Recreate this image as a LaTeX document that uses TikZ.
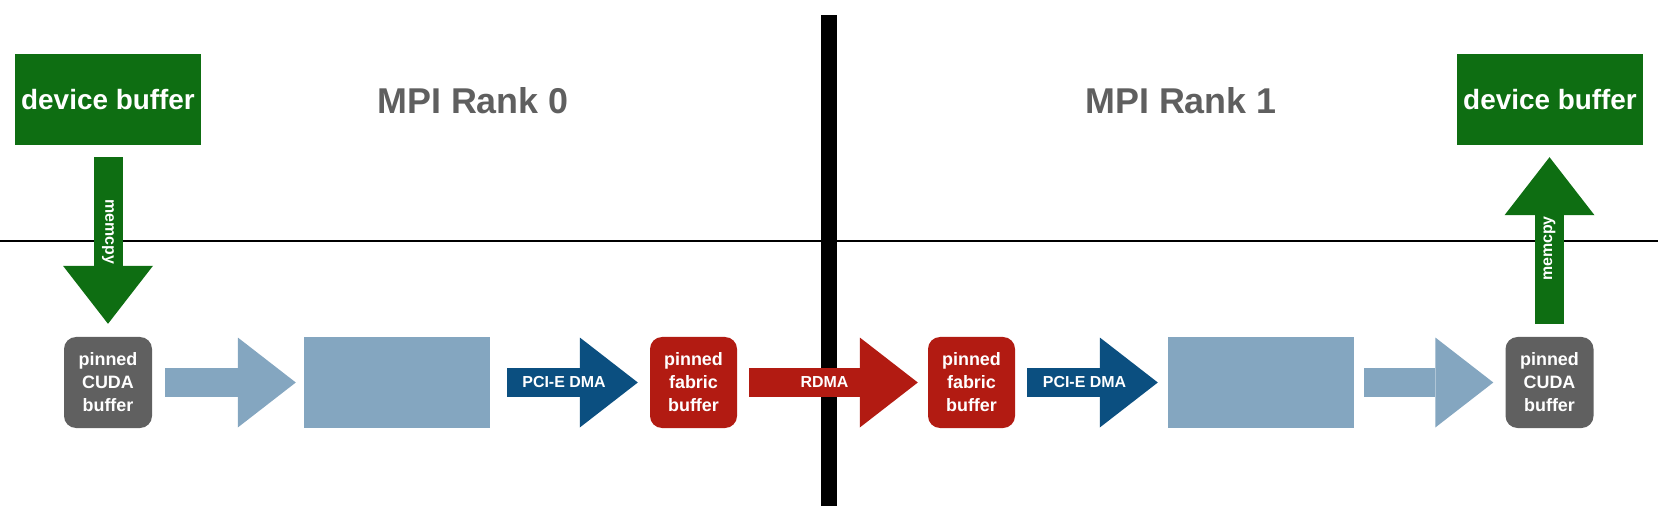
\documentclass[tikz,border=0pt]{standalone}
\usepackage{fontspec}
\setmainfont{Liberation Sans}
\usetikzlibrary{arrows.meta}
\definecolor{devgreen}{RGB}{14,110,18}
\definecolor{cudagrey}{RGB}{96,96,96}
\definecolor{hostblue}{RGB}{132,166,192}
\definecolor{pciblue}{RGB}{11,79,128}
\definecolor{fabricred}{RGB}{178,27,18}
\definecolor{titlegrey}{RGB}{95,95,95}
\tikzset{
    buffer/.style={inner sep=0pt,minimum height=91bp,align=center,text=white,
        font=\bfseries\fontsize{18}{23}\selectfont},
    device/.style={buffer,fill=devgreen,minimum width=186bp,
        font=\bfseries\fontsize{28}{34}\selectfont},
    cuda/.style={buffer,fill=cudagrey,rounded corners=12bp,minimum width=88bp},
    fabric/.style={buffer,fill=fabricred,rounded corners=12bp,minimum width=87bp},
    staging/.style={buffer,fill=hostblue,minimum width=186bp},
    flow/.style={line width=29bp,-{Triangle[length=58bp,width=90bp,line width=0pt]}},
    tag/.style={inner sep=0pt,text=white,font=\bfseries\fontsize{16}{19}\selectfont},
    rank/.style={inner sep=0pt,text=titlegrey,font=\bfseries\fontsize{36}{42}\selectfont}
}

\begin{document}
\begin{tikzpicture}[x=1bp,y=-1bp]
\useasboundingbox (0,0) rectangle (1658,528);
\draw[line width=2bp] (0,241) -- (1658,241);
\fill (821,15) rectangle (837,506);
\node[rank] (rank0) at (473,101) {MPI Rank 0};
\node[rank] (rank1) at (1181,101) {MPI Rank 1};
\node[device] (devL) at (108,99.5) {device buffer};
\node[device] (devR) at (1550,99.5) {device buffer};
\node[cuda] (cudaL) at (108,382.5) {pinned\\CUDA\\buffer};
\node[staging] (hostL) at (397,382.5) {};
\node[fabric] (fabL) at (693.5,382.5) {pinned\\fabric\\buffer};
\node[fabric] (fabR) at (971.5,382.5) {pinned\\fabric\\buffer};
\node[staging] (hostR) at (1261,382.5) {};
\node[cuda] (cudaR) at (1549.5,382.5) {pinned\\CUDA\\buffer};
\draw[flow,devgreen,shorten <=12bp,shorten >=13bp] (devL) -- (devL |- cudaL.north)
    node[tag,pos=0.453,rotate=-90] {memcpy};
\draw[flow,hostblue,shorten <=13bp,shorten >=8bp] (cudaL) -- (hostL);
\draw[flow,pciblue,shorten <=17bp,shorten >=12bp] (hostL) -- (fabL)
    node[tag,midway,xshift=-6bp] {PCI-E DMA};
\draw[flow,fabricred,shorten <=12bp,shorten >=10bp] (fabL) -- (fabR)
    node[tag,midway,xshift=-8bp] {RDMA};
\draw[flow,pciblue,shorten <=12bp,shorten >=10bp] (fabR) -- (hostR)
    node[tag,midway,xshift=-7bp] {PCI-E DMA};
\draw[flow,hostblue,shorten <=10bp,shorten >=12bp] (hostR) -- (cudaR);
\draw[flow,devgreen,shorten <=13bp,shorten >=12bp] (cudaR) -- (cudaR |- devR.south)
    node[tag,pos=0.461,rotate=90] {memcpy};
\end{tikzpicture}
\end{document}
